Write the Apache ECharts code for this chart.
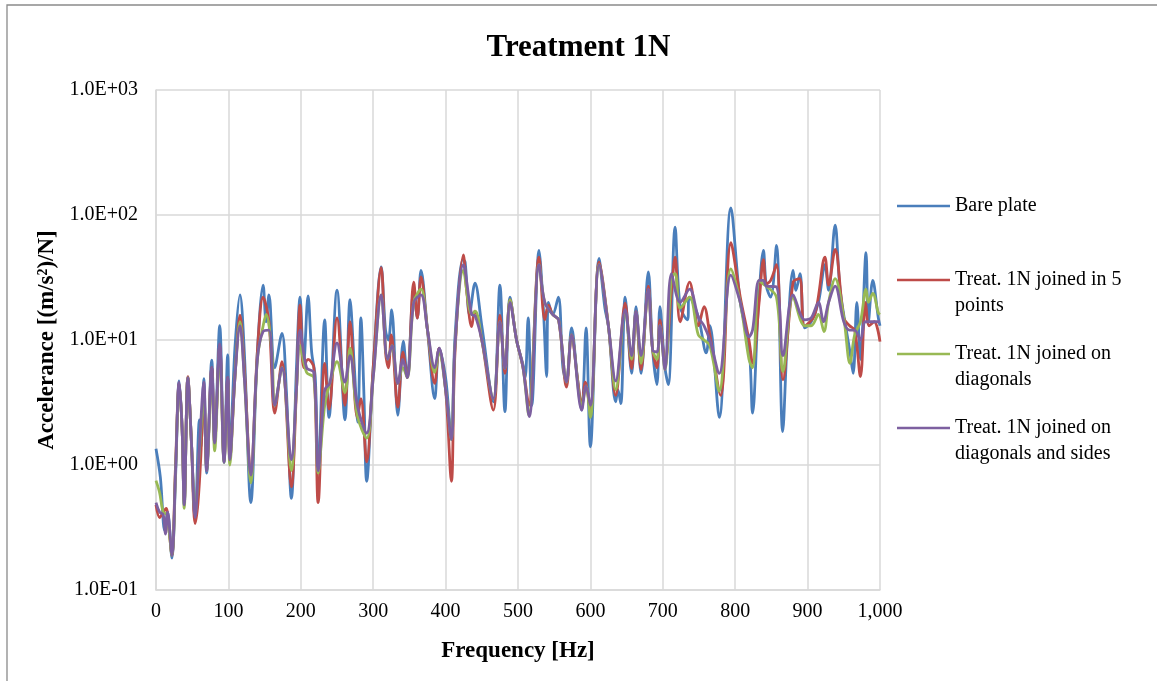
<!DOCTYPE html>
<html>
<head>
<meta charset="utf-8">
<script src="https://cdn.jsdelivr.net/npm/echarts@6/dist/echarts.min.js"></script>
<style>html,body{margin:0;padding:0;background:#fff}#c{width:1157px;height:681px}</style>
</head>
<body>
<div id="c"></div>
<script>
const seriesNames = ['Bare plate', 'Treat. 1N joined in 5 points', 'Treat. 1N joined on diagonals', 'Treat. 1N joined on diagonals and sides'];
const legendLabels = ['Bare plate', 'Treat. 1N joined in 5\npoints', 'Treat. 1N joined on\ndiagonals', 'Treat. 1N joined on\ndiagonals and sides'];
const yTickValues = [0.1, 1, 10, 100, 1000];
const xTickLabels = ['0','100','200','300','400','500','600','700','800','900','1,000'];

const freqBare = [0,6,12,16,22,27,32,36,39,44,49,54,60,62,66,70,77,81,88,94,99,102,109,116,122,131,140,148,152,156,164,174,180,187,194,199,204,210,215,220,224,233,239,250,261,268,274,278.6,283,287,291,300,311,317,321,325.5,334,341.6,347,356,361,366,375,385,391,400,408,413,424,427,433,440.6,450,466,475,482,489,498,507,510,514,519,529,535,539.6,542,548,555.7,562,567,574,582,588,594,600,612,620,625,635,638,642,648,657,663,670,680,686,692,696,703,707.6,717,724,734,736.6,749,760,765,778,794,807,819,824,832,839,843,849,857,865.6,872,880,884,889.5,896,905,915,924,929,938,945,958.5,963,968,973,980.7,984,990,997.7,1000];
const accBare = [1.35,0.8,0.3,0.42,0.18,0.8,4.7,2,0.48,5,1.5,0.36,2.3,1.4,4.9,0.86,6.9,1.6,13,1.05,7.6,1.2,8.6,23,8,0.5,8,27.5,14,23,6,11.3,4,0.54,6,22,6.5,22.5,8,5,0.86,14.5,2.4,25,2.3,21,6,2.2,15,4,0.74,6,38.5,12,10,17.4,2.5,9.8,5,25,15,36,12,3.4,8.6,5,1.6,10.6,44,42,16,28.5,13,3.2,27.5,2.67,22,10,6.3,5,15,3,52,18,5.1,20,16,22,6,4.6,12.5,5,2.75,12.5,1.4,45,18,12.8,3.2,4,3.1,22,5.4,18.5,5.4,35,8.3,4.4,18.5,6,4.4,80,18.5,14.5,22,15.3,7.9,13,2.4,114,20,9,2.6,18.5,52,27,22,57,1.85,10,36,25,34,12.5,14,20,40,25,83,25,8,5.4,20,7,50,14,30,15,13];

const freq5pts = [0,5,10,14,18,22,27,32,36,39,44,49,54,58,62,66,70,77,81,88,94,99,102,109,116,122,131,140,148,156,164,174,187,194,199,204,210,218,224,233,239,250,261,268,278,283,291,300,311,317,321,325,334,341,347,356,361,366,375,385,391,400,408,413,424.5,429,436,440,450,466,475,482,489,498,507,515,529,537,542,548,556,567,574,582,588,593,600,612,625,635,648,657,663,670,680,686,692,696,703,712,717,724,737,749,757,765,780,794,807,819,824,833,839,843,849,857,866,880,889,896,910,924,929,938,950,958,965,973,980,985,992,1000];
const acc5pts = [0.48,0.38,0.42,0.45,0.3,0.19,1,4.5,2,0.5,5.1,1.5,0.34,0.5,1.2,4,0.95,6,1.5,9,1.1,5,1.1,5,15.8,6,0.85,8,22,14,2.6,6.7,0.67,4,19,6,7,6,0.5,6.5,2.8,15,3,14,2.4,3.4,1.06,6,38,8,6,11,2.9,8,5,29,15,32,12,4.5,8.6,4,0.74,8,48,25,12.8,17,10,2.75,15.8,5.4,21,10,6,3,46,14.5,19,16,14.5,4.2,11,5,3,4.6,2.7,42,12.8,3.6,19.7,5.9,17,5.8,27,8.3,6,14.5,6.5,25,46,14,29,13,18.5,11,3.6,60,22,10,6.5,20,44,28,30,40,4.8,29,31,13,16,46,27.5,53,15,13,12,5.1,20,13,14,9.7];

const freqDiag = [0,5,10,15,22,27,32,36,39,44,49,54,60,66,70,77,81,88,94,99,102,109,116,122,131,140,148,152,160,164,174,187,194,199,208,218,224,233,240,250,261,268,278,291,300,311,320,326,334,341,347,356,366,375,385,391,400,408,413,424.5,436,441,450,466,475,482,489,498,507,515,529,537,548,556,567,574,588,594,600,612,625,635,648,657,663,670,680,686,692,696,703,712,717,724,737,749,757,765,778,794,807,819,824,833,839,843,857,866,880,896,905,915,922.6,929,938,950,958.5,965,973,980.7,984,990,997.7,1000];
const accDiag = [0.75,0.6,0.42,0.4,0.19,0.9,4.3,2,0.45,5,1.5,0.4,1.3,3.5,0.9,5.5,1.3,8,1.05,4.5,1,5,14,5,0.72,7,13,16,8,3,6,0.9,4,9,5.5,5,0.86,3,4.5,6.7,3.8,8.6,2.5,1.64,5,23,7,9,4.5,6,5,20,25.5,12,5.5,8,4,1.6,9,36,16,17,10,3.4,14,5.9,21,10,6,2.5,40,20,16,14.5,4.6,11,3,4.3,2.4,40,12.8,4,17,7,17,6.5,25,8.3,7,13,5.8,32,34,18,22,11,10,9,3.9,37,20,7,6,30,28,27,22,5.6,22,13,13,16,11.7,20,31,15,6.5,11,14,25.5,20,23.6,16.5,16];

const freqDiagSides = [0,5,10,13,16,22,27,32,36,39,44,49,54,60,66,70,77,81,88,94,99,102,109,116,122,131,140,148,156,164,174,187,194,199,208,218,224,233,240,250,261,268,278,291,300,311,320,326,334,341,347,356,366,375,385,391,400,408,413,424.5,436,441,450,466,475,482,489,498,507,515.6,529,537,548,556,567,574,588,594,600,612,625,635,648,657,663,670,680,686,692,696,703,712,724,737,749,757,765,778,794,807,819,824,833,839,843,857,866,880,896,905,915,922,929,938,950,958,965,973,980,990,1000];
const accDiagSides = [0.5,0.42,0.4,0.28,0.42,0.19,0.9,4.6,2,0.48,5,1.5,0.38,1.4,4.6,0.9,6,1.5,9.3,1.05,5,1.1,5,13,5,0.83,7,11.7,12,3,6,1.1,4,12,6,5.5,0.9,4,4.5,9.5,4.6,7.5,3,1.8,5,23,7,9,4.5,7,5,20,23,12,6,8.6,4,1.6,9,40,16,15.5,10,3.4,14,5.9,20,10,6,2.44,40,20,16,14.5,4.6,11,2.75,4.3,3,40,12.8,4.7,17.5,7.5,17,7.5,25.5,8.3,8,13,5.8,34,20,25.5,15.3,13,10,5.4,33,20,10.6,12,30,30,27,26.6,7.5,23,14.5,15,20,14,20,27,14,12,12,10,14,14,14];

const colors = ['#4a7ebb', '#be4b48', '#98b954', '#7d60a0'];
const freqs = [freqBare, freq5pts, freqDiag, freqDiagSides];
const accs = [accBare, acc5pts, accDiag, accDiagSides];

function fmtExp(v) {
  const e = Math.round(Math.log10(v));
  const sign = e < 0 ? '-' : '+';
  const a = Math.abs(e);
  return '1.0E' + sign + (a < 10 ? '0' + a : '' + a);
}

const FONT = '"Liberation Serif", "Times New Roman", serif';
const chart = echarts.init(document.getElementById('c'), null, {renderer: 'canvas'});

const series = seriesNames.map((name, i) => ({
  name: name,
  type: 'line',
  data: freqs[i].map((f, j) => [f, accs[i][j]]),
  smooth: 0.35,
  showSymbol: false,
  symbol: 'none',
  lineStyle: {color: colors[i], width: 2.8},
  itemStyle: {color: colors[i]},
  z: 2 + i,
  animation: false
}));

const LH = 25.5;
const iconCenters = [206, 280, 354, 428];
const legends = seriesNames.map((name, i) => {
  const multi = legendLabels[i].indexOf('\n') >= 0;
  // multi-line items get a blank leading line so the icon sits beside the first text line
  const label = multi ? '\u00a0\n' + legendLabels[i] : legendLabels[i];
  const top = multi ? iconCenters[i] - 1.5 * LH : iconCenters[i] - 0.5 * LH;
  return {
    data: [name],
    left: 897,
    top: top,
    orient: 'vertical',
    icon: 'rect',
    itemWidth: 53,
    itemHeight: 2.5,
    itemGap: 0,
    padding: 0,
    selectedMode: false,
    formatter: () => label,
    textStyle: {fontFamily: FONT, fontSize: 20, color: '#000', lineHeight: LH}
  };
});

chart.setOption({
  animation: false,
  backgroundColor: '#fff',
  color: colors,
  title: {
    text: 'Treatment 1N',
    left: 'center',
    top: 27,
    textStyle: {fontFamily: FONT, fontSize: 31, fontWeight: 'bold', color: '#000'}
  },
  legend: legends,
  graphic: [{
    type: 'rect',
    shape: {x: 7, y: 5, width: 1200, height: 700},
    style: {fill: 'none', stroke: '#8a8a8a', lineWidth: 1.3},
    silent: true
  }],
  grid: {left: 156, right: 277, top: 90, bottom: 91, containLabel: false},
  xAxis: {
    type: 'value',
    min: 0, max: 1000, interval: 100,
    name: 'Frequency [Hz]',
    nameLocation: 'middle',
    nameGap: 50,
    nameTextStyle: {fontFamily: FONT, fontSize: 23, fontWeight: 'bold', color: '#000'},
    axisLine: {show: true, lineStyle: {color: '#d9d9d9', width: 1.5}},
    axisTick: {show: false},
    axisLabel: {
      fontFamily: FONT, fontSize: 20, color: '#000', margin: 12,
      formatter: v => xTickLabels[Math.round(v / 100)]
    },
    splitLine: {show: true, lineStyle: {color: '#d9d9d9', width: 1.5}}
  },
  yAxis: {
    type: 'log',
    logBase: 10,
    min: yTickValues[0], max: yTickValues[yTickValues.length - 1],
    name: 'Accelerance [(m/s²)/N]',
    nameLocation: 'middle',
    nameGap: 95,
    nameTextStyle: {fontFamily: FONT, fontSize: 23, fontWeight: 'bold', color: '#000'},
    axisLine: {show: true, lineStyle: {color: '#d9d9d9', width: 1.5}},
    axisTick: {show: false},
    minorTick: {show: false},
    axisLabel: {fontFamily: FONT, fontSize: 20, color: '#000', margin: 18, formatter: v => fmtExp(v)},
    splitLine: {show: true, lineStyle: {color: '#d9d9d9', width: 1.5}}
  },
  series: series
});
</script>
</body>
</html>
